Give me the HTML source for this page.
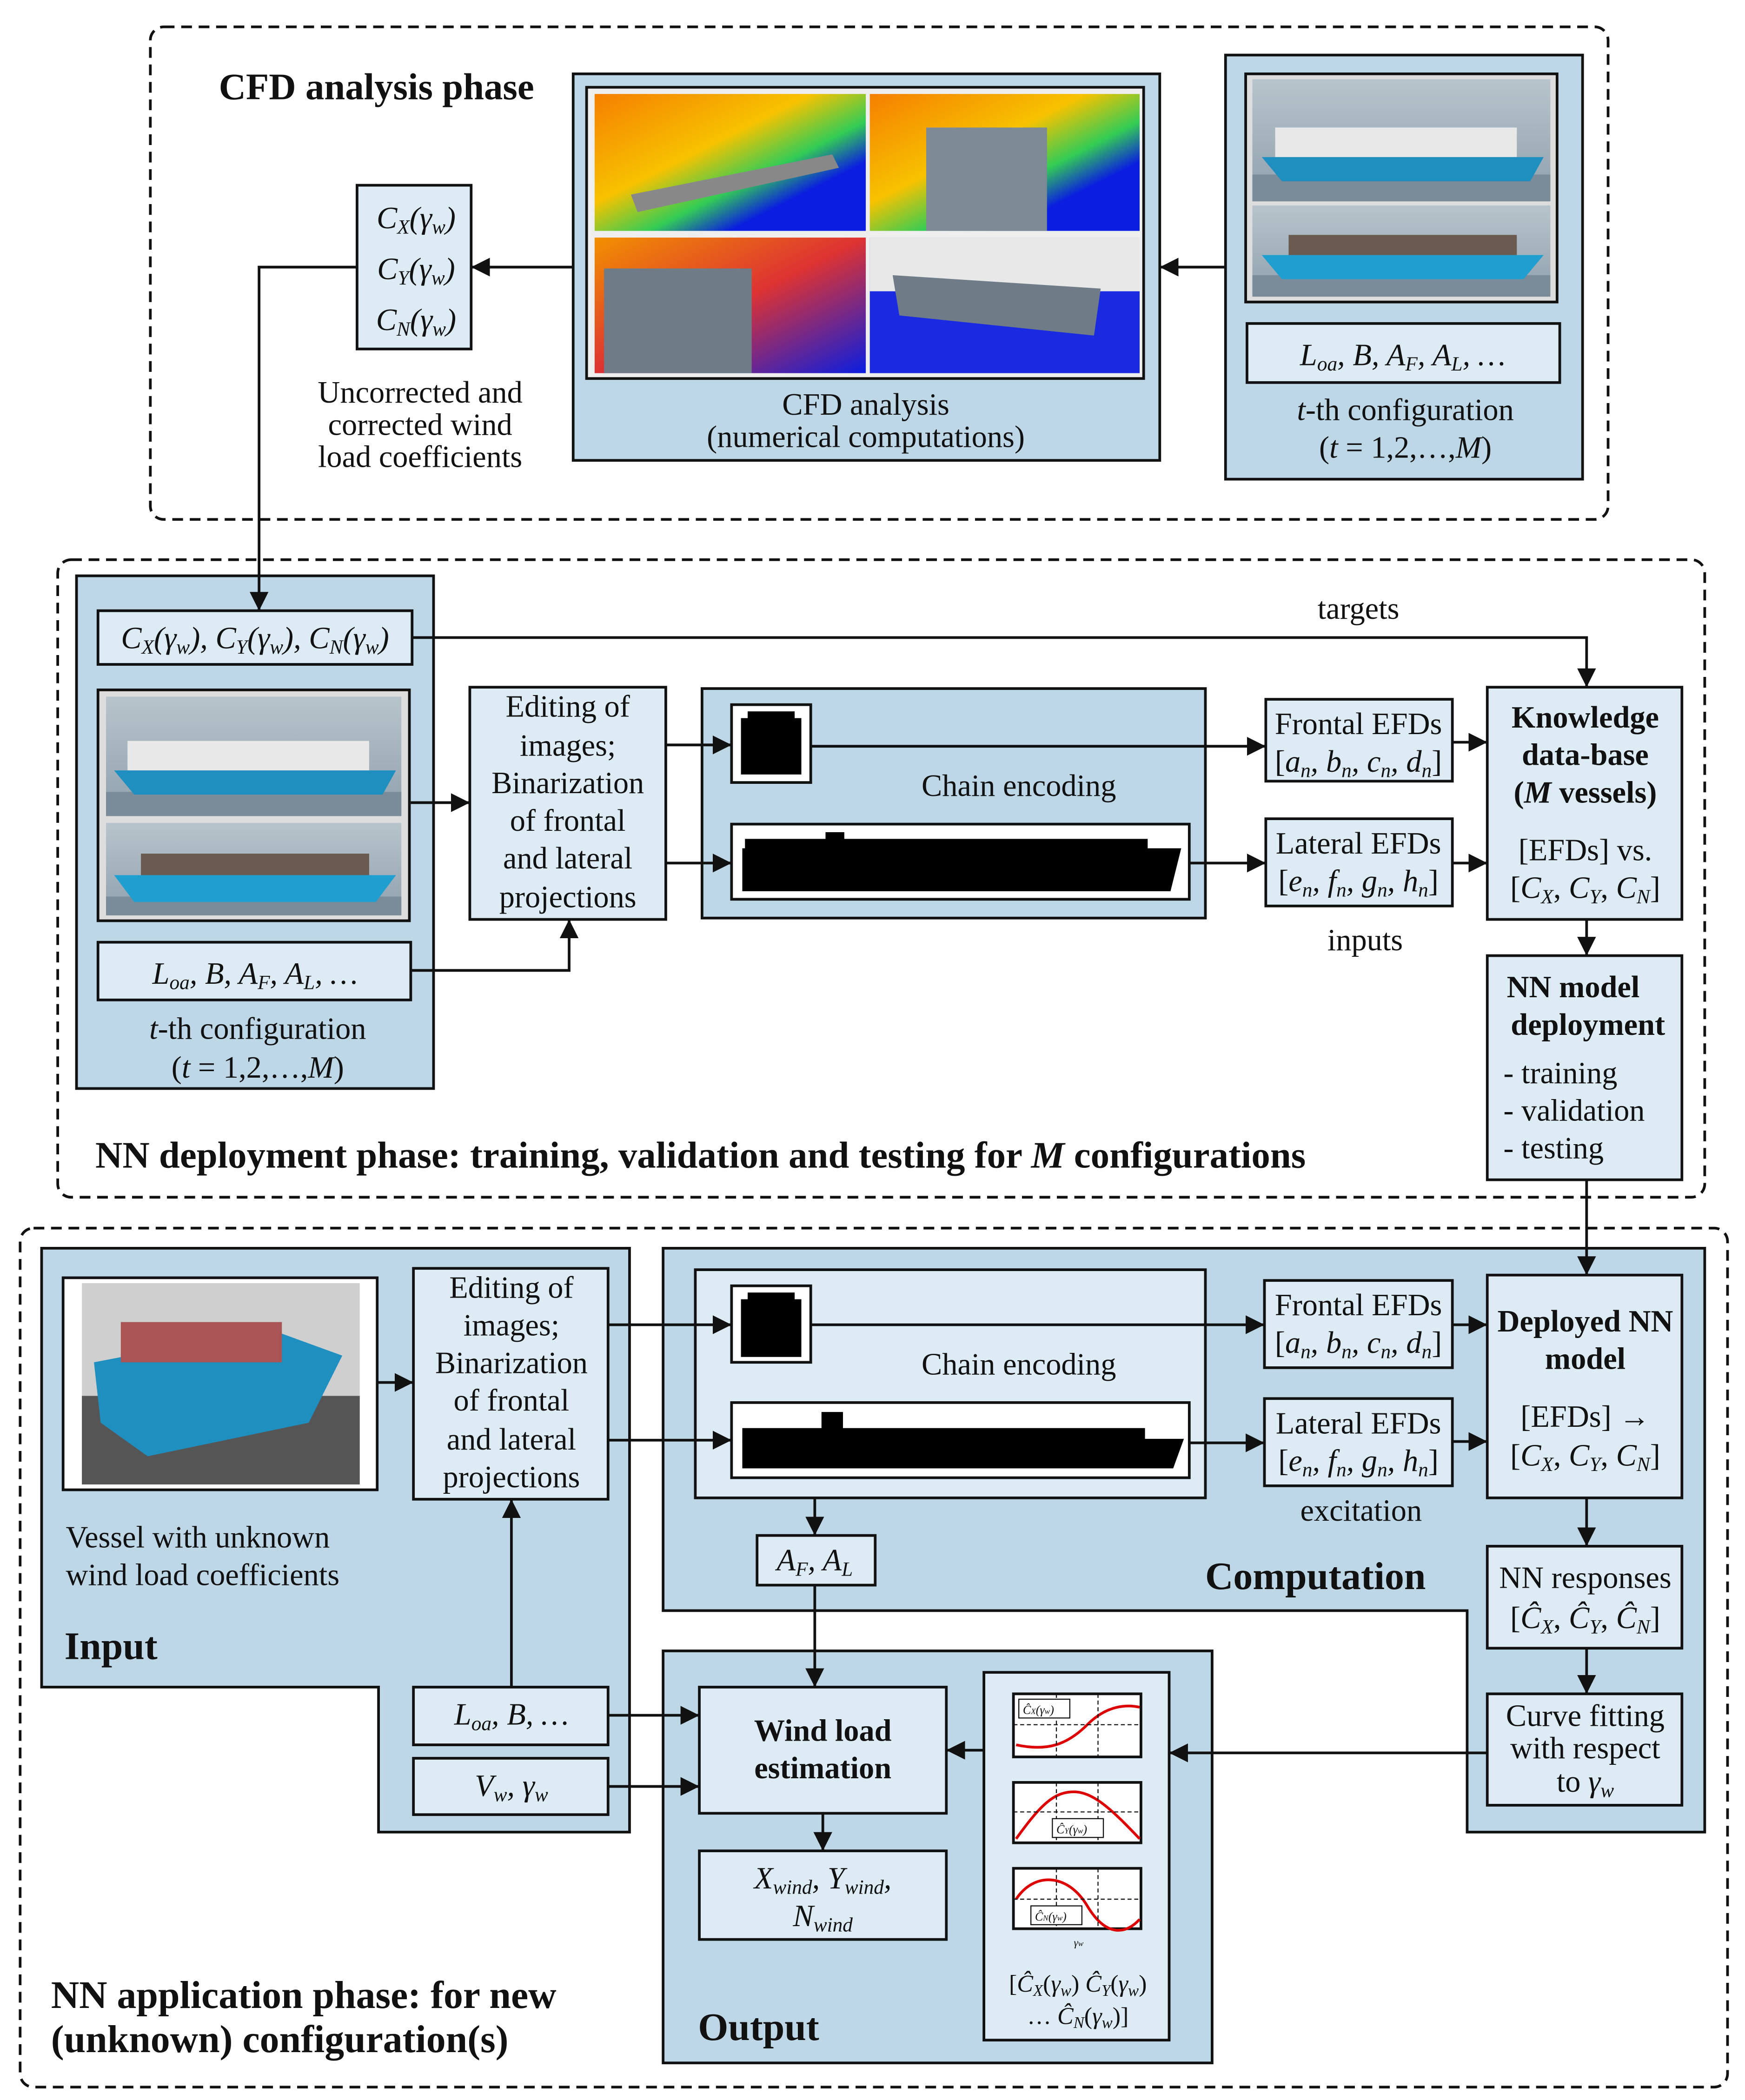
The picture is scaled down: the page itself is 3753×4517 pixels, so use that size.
<!DOCTYPE html>
<html><head><meta charset="utf-8"><style>
html,body{margin:0;padding:0;background:#fff}
svg{display:block}
text{font-family:"Liberation Serif",serif;fill:#111}
.t{font-size:23px}
.b{font-weight:bold}
.c{text-anchor:middle}
.i{font-style:italic}
</style></head><body>
<svg width="3753" height="4517" viewBox="0 0 1300 1564.6" xmlns="http://www.w3.org/2000/svg">
<defs>
<marker id="ar" viewBox="0 0 10 10" refX="10" refY="5" markerWidth="14" markerHeight="14" orient="auto" markerUnits="userSpaceOnUse"><path d="M0,0L10,5L0,10z" fill="#111"/></marker>
<linearGradient id="sky" x1="0" y1="0" x2="0" y2="1"><stop offset="0" stop-color="#b8c4cc"/><stop offset="1" stop-color="#8fa0ad"/></linearGradient>
<linearGradient id="cfd1" x1="0" y1="0" x2="1" y2="1"><stop offset="0" stop-color="#f57f00"/><stop offset=".4" stop-color="#f7c200"/><stop offset=".6" stop-color="#33cc55"/><stop offset=".75" stop-color="#0a1de0"/></linearGradient>
<linearGradient id="cfd2" x1="0" y1="0" x2="1" y2="1"><stop offset="0" stop-color="#f29000"/><stop offset=".5" stop-color="#d33"/><stop offset="1" stop-color="#0a1de0"/></linearGradient>
</defs>
<g stroke="#111" stroke-width="2" fill="none">
<rect x="112" y="20" width="1086" height="367" rx="10" stroke-dasharray="8,5"/>
<rect x="43" y="417" width="1227" height="475" rx="10" stroke-dasharray="8,5"/>
<rect x="15" y="915" width="1272" height="640" rx="10" stroke-dasharray="8,5"/>
</g>
<g stroke="#111" stroke-width="2">
<rect x="266" y="138" width="85" height="122" fill="#ddebf4"/>
<rect x="427" y="55" width="437" height="288" fill="#bdd7e7"/>
<rect x="437" y="65" width="415" height="217" fill="#eee"/>
<rect x="913" y="41" width="266" height="316" fill="#bdd7e7"/>
<rect x="928" y="55" width="232" height="170" fill="#ddd"/>
<rect x="929" y="241" width="233" height="44" fill="#ddebf4"/>
<rect x="57" y="429" width="266" height="382" fill="#bdd7e7"/>
<rect x="73" y="455" width="234" height="40" fill="#ddebf4"/>
<rect x="73" y="514" width="232" height="172" fill="#ddd"/>
<rect x="73" y="702" width="233" height="43" fill="#ddebf4"/>
<rect x="350" y="512" width="146" height="173" fill="#ddebf4"/>
<rect x="523" y="513" width="375" height="171" fill="#bdd7e7"/>
<rect x="545" y="525" width="59" height="58" fill="#fff"/>
<rect x="545" y="614" width="341" height="56" fill="#fff"/>
<rect x="943" y="521" width="139" height="61" fill="#ddebf4"/>
<rect x="943" y="610" width="139" height="65" fill="#ddebf4"/>
<rect x="1108" y="512" width="145" height="173" fill="#ddebf4"/>
<rect x="1108" y="712" width="145" height="167" fill="#ddebf4"/>
<path d="M31,930H469V1365H282V1257H31Z" fill="#bdd7e7"/>
<path d="M494,930H1270V1365H1093V1200H494Z" fill="#bdd7e7"/>
<rect x="47" y="952" width="234" height="158" fill="#fff"/>
<rect x="308" y="945" width="145" height="172" fill="#ddebf4"/>
<rect x="308" y="1257" width="145" height="43" fill="#ddebf4"/>
<rect x="308" y="1310" width="145" height="42" fill="#ddebf4"/>
<rect x="518" y="946" width="380" height="170" fill="#ddebf4"/>
<rect x="545" y="958" width="59" height="57" fill="#fff"/>
<rect x="545" y="1045" width="341" height="56" fill="#fff"/>
<rect x="942" y="954" width="140" height="65" fill="#ddebf4"/>
<rect x="942" y="1042" width="140" height="65" fill="#ddebf4"/>
<rect x="1108" y="950" width="145" height="166" fill="#ddebf4"/>
<rect x="1108" y="1152" width="145" height="76" fill="#ddebf4"/>
<rect x="1108" y="1262" width="145" height="83" fill="#ddebf4"/>
<rect x="564" y="1144" width="88" height="37" fill="#ddebf4"/>
<rect x="494" y="1230" width="409" height="307" fill="#bdd7e7"/>
<rect x="521" y="1257" width="184" height="94" fill="#ddebf4"/>
<rect x="521" y="1379" width="184" height="66" fill="#ddebf4"/>
<rect x="733" y="1246" width="138" height="274" fill="#ddebf4"/>
<rect x="755" y="1262" width="95" height="47" fill="#fff"/>
<rect x="755" y="1328" width="95" height="45" fill="#fff"/>
<rect x="755" y="1392" width="95" height="45" fill="#fff"/>
</g>
<rect x="443" y="70" width="202" height="102" fill="url(#cfd1)"/>
<rect x="648" y="70" width="201" height="102" fill="url(#cfd1)"/>
<rect x="690" y="95" width="90" height="77" fill="#7c8a96"/>
<rect x="443" y="177" width="202" height="101" fill="url(#cfd2)"/>
<rect x="450" y="200" width="110" height="78" fill="#6f7c88"/>
<rect x="648" y="177" width="201" height="101" fill="#1a2ae0"/>
<rect x="648" y="177" width="201" height="40" fill="#e8e8e8"/>
<path d="M665,205L820,215L815,250L670,235Z" fill="#6f7c88"/>
<path d="M470,145L620,115L625,125L475,158Z" fill="#888"/>
<g>
<rect x="933" y="59" width="222" height="91" fill="url(#sky)"/><rect x="933" y="130" width="222" height="20" fill="#7a8c99"/>
<rect x="950" y="95" width="180" height="22" fill="#e8e8e8"/><path d="M940,117H1150L1140,135H955Z" fill="#1f8fc0"/>
<rect x="933" y="153" width="222" height="68" fill="url(#sky)"/><rect x="933" y="205" width="222" height="16" fill="#7a8c99"/>
<rect x="960" y="175" width="170" height="17" fill="#6a5a50"/><path d="M940,190H1150L1135,208H955Z" fill="#1f9fd0"/>
<rect x="79" y="519" width="220" height="89" fill="url(#sky)"/><rect x="79" y="590" width="220" height="18" fill="#7a8c99"/>
<rect x="95" y="552" width="180" height="22" fill="#e8e8e8"/><path d="M85,574H295L285,592H100Z" fill="#1f8fc0"/>
<rect x="79" y="613" width="220" height="69" fill="url(#sky)"/><rect x="79" y="668" width="220" height="14" fill="#7a8c99"/>
<rect x="105" y="636" width="170" height="17" fill="#6a5a50"/><path d="M85,652H295L280,672H100Z" fill="#1f9fd0"/>
<rect x="61" y="956" width="207" height="150" fill="#cfcfcf"/><rect x="61" y="1040" width="207" height="66" fill="#555"/>
<path d="M70,1015L200,990L255,1010L230,1060L110,1085L75,1060Z" fill="#1f8fc0"/>
<rect x="90" y="985" width="120" height="30" fill="#a55"/>
</g>
<g fill="#000">
<path d="M552,535H597V577H552Z"/><rect x="557" y="530" width="35" height="6"/>
<path d="M552,968H597V1011H552Z"/><rect x="557" y="963" width="35" height="6"/>
<path d="M553,632H880L872,664H553Z"/>
<rect x="555" y="625" width="300" height="8"/><rect x="615" y="620" width="14" height="14"/>
<path d="M553,1072H882L874,1094H553Z"/><rect x="553" y="1064" width="300" height="9"/><rect x="612" y="1052" width="16" height="21"/>
</g>
<g fill="none" stroke="#d00" stroke-width="2">
<path d="M757,1300C780,1305 795,1300 810,1285S840,1270 849,1272"/>
<path d="M757,1370C775,1345 785,1335 800,1335S830,1350 849,1370"/>
<path d="M757,1415C770,1395 795,1395 810,1420S840,1440 849,1430"/>
</g>
<g stroke="#111" stroke-width="0.8" stroke-dasharray="3,2" fill="none">
<path d="M787,1262V1309M818,1262V1309M755,1285H850M787,1328V1373M818,1328V1373M755,1350H850M787,1392V1437M818,1392V1437M755,1415H850"/>
</g>
<g stroke="#111" stroke-width="0.8" fill="#fff"><rect x="759" y="1266" width="38" height="14"/><rect x="784" y="1355" width="38" height="14"/><rect x="768" y="1420" width="38" height="14"/></g>
<g font-size="9" class="i"><text x="762" y="1277">Ĉ<tspan font-size="6">X</tspan>(γ<tspan font-size="6">w</tspan>)</text><text x="787" y="1366">Ĉ<tspan font-size="6">Y</tspan>(γ<tspan font-size="6">w</tspan>)</text><text x="771" y="1431">Ĉ<tspan font-size="6">N</tspan>(γ<tspan font-size="6">w</tspan>)</text><text x="800" y="1450" font-size="8">γ<tspan font-size="6">w</tspan></text></g>
<g stroke="#111" stroke-width="2" fill="none" marker-end="url(#ar)">
<path d="M913,199H864"/><path d="M427,199H351"/>
<path d="M266,199H193V455"/>
<path d="M307,475H1182V512"/>
<path d="M306,598H350"/><path d="M306,723H424V685"/>
<path d="M496,555H545"/><path d="M496,643H545"/>
<path d="M604,556H943"/><path d="M886,643H943"/>
<path d="M1082,553H1108"/><path d="M1082,643H1108"/>
<path d="M1182,685V712"/>
<path d="M1182,879V950"/>
<path d="M281,1030H308"/><path d="M381,1257V1117"/>
<path d="M453,987H545"/><path d="M453,1073H545"/>
<path d="M604,987H942"/><path d="M886,1075H942"/>
<path d="M1082,987H1108"/><path d="M1082,1074H1108"/>
<path d="M1182,1116V1152"/><path d="M1182,1228V1262"/>
<path d="M607,1116V1144"/><path d="M607,1181V1257"/>
<path d="M453,1278H521"/><path d="M453,1331H521"/>
<path d="M613,1351V1379"/>
<path d="M1108,1306H871"/><path d="M733,1304H705"/>
</g>
<text x="163" y="74" font-size="28" class="b">CFD analysis phase</text>
<g class="t i c">
<text x="310" y="170">C<tspan font-size="15" dy="4">X</tspan><tspan dy="-4">(γ</tspan><tspan font-size="15" dy="4">w</tspan><tspan dy="-4">)</tspan></text>
<text x="310" y="208">C<tspan font-size="15" dy="4">Y</tspan><tspan dy="-4">(γ</tspan><tspan font-size="15" dy="4">w</tspan><tspan dy="-4">)</tspan></text>
<text x="310" y="246">C<tspan font-size="15" dy="4">N</tspan><tspan dy="-4">(γ</tspan><tspan font-size="15" dy="4">w</tspan><tspan dy="-4">)</tspan></text>
</g>
<g class="t c">
<text x="313" y="300">Uncorrected and</text><text x="313" y="324">corrected wind</text><text x="313" y="348">load coefficients</text>
<text x="645" y="309">CFD analysis</text><text x="645" y="333">(numerical computations)</text>
<text x="1045" y="272" class="i">L<tspan font-size="15" dy="4">oa</tspan><tspan dy="-4">, B, A</tspan><tspan font-size="15" dy="4">F</tspan><tspan dy="-4">, A</tspan><tspan font-size="15" dy="4">L</tspan><tspan dy="-4">, …</tspan></text>
<text x="1047" y="313"><tspan class="i">t</tspan>-th configuration</text>
<text x="1047" y="341">(<tspan class="i">t</tspan> = 1,2,…,<tspan class="i">M</tspan>)</text>
<text x="190" y="483" class="i">C<tspan font-size="15" dy="4">X</tspan><tspan dy="-4">(γ</tspan><tspan font-size="15" dy="4">w</tspan><tspan dy="-4">), C</tspan><tspan font-size="15" dy="4">Y</tspan><tspan dy="-4">(γ</tspan><tspan font-size="15" dy="4">w</tspan><tspan dy="-4">), C</tspan><tspan font-size="15" dy="4">N</tspan><tspan dy="-4">(γ</tspan><tspan font-size="15" dy="4">w</tspan><tspan dy="-4">)</tspan></text>
<text x="190" y="733" class="i">L<tspan font-size="15" dy="4">oa</tspan><tspan dy="-4">, B, A</tspan><tspan font-size="15" dy="4">F</tspan><tspan dy="-4">, A</tspan><tspan font-size="15" dy="4">L</tspan><tspan dy="-4">, …</tspan></text>
<text x="192" y="774"><tspan class="i">t</tspan>-th configuration</text>
<text x="192" y="803">(<tspan class="i">t</tspan> = 1,2,…,<tspan class="i">M</tspan>)</text>
<text x="1012" y="461">targets</text>
<text x="423" y="534">Editing of</text><text x="423" y="563">images;</text><text x="423" y="591">Binarization</text><text x="423" y="619">of frontal</text><text x="423" y="647">and lateral</text><text x="423" y="676">projections</text>
<text x="759" y="593">Chain encoding</text>
<text x="1012" y="547">Frontal EFDs</text>
<text x="1012" y="575" class="i"><tspan font-style="normal">[</tspan>a<tspan font-size="15" dy="4">n</tspan><tspan dy="-4">, b</tspan><tspan font-size="15" dy="4">n</tspan><tspan dy="-4">, c</tspan><tspan font-size="15" dy="4">n</tspan><tspan dy="-4">, d</tspan><tspan font-size="15" dy="4">n</tspan><tspan dy="-4" font-style="normal">]</tspan></text>
<text x="1012" y="636">Lateral EFDs</text>
<text x="1012" y="664" class="i"><tspan font-style="normal">[</tspan>e<tspan font-size="15" dy="4">n</tspan><tspan dy="-4">, f</tspan><tspan font-size="15" dy="4">n</tspan><tspan dy="-4">, g</tspan><tspan font-size="15" dy="4">n</tspan><tspan dy="-4">, h</tspan><tspan font-size="15" dy="4">n</tspan><tspan dy="-4" font-style="normal">]</tspan></text>
<text x="1017" y="708">inputs</text>
<text x="1181" y="542" class="b">Knowledge</text><text x="1181" y="570" class="b">data-base</text><text x="1181" y="598" class="b">(<tspan class="i">M</tspan> vessels)</text>
<text x="1181" y="641">[EFDs] vs.</text>
<text x="1181" y="669">[<tspan class="i">C</tspan><tspan font-size="15" dy="4" class="i">X</tspan><tspan dy="-4">, </tspan><tspan class="i">C</tspan><tspan font-size="15" dy="4" class="i">Y</tspan><tspan dy="-4">, </tspan><tspan class="i">C</tspan><tspan font-size="15" dy="4" class="i">N</tspan><tspan dy="-4">]</tspan></text>
<text x="1172" y="743" class="b">NN model</text><text x="1183" y="771" class="b">deployment</text>
</g>
<g class="t">
<text x="1120" y="807">- training</text><text x="1120" y="835">- validation</text><text x="1120" y="863">- testing</text>
<text x="49" y="1153">Vessel with unknown</text><text x="49" y="1181">wind load coefficients</text>
</g>
<text x="71" y="870" font-size="28" class="b">NN deployment phase: training, validation and testing for <tspan class="i">M</tspan> configurations</text>
<text x="48" y="1236" font-size="29" class="b">Input</text>
<text x="980" y="1184" font-size="29" class="b c">Computation</text>
<text x="520" y="1520" font-size="29" class="b">Output</text>
<text x="38" y="1496" font-size="29" class="b">NN application phase: for new</text>
<text x="38" y="1529" font-size="29" class="b">(unknown) configuration(s)</text>
<g class="t c">
<text x="381" y="967">Editing of</text><text x="381" y="995">images;</text><text x="381" y="1023">Binarization</text><text x="381" y="1051">of frontal</text><text x="381" y="1080">and lateral</text><text x="381" y="1108">projections</text>
<text x="381" y="1285" class="i">L<tspan font-size="15" dy="4">oa</tspan><tspan dy="-4">, B, …</tspan></text>
<text x="381" y="1338" class="i">V<tspan font-size="15" dy="4">w</tspan><tspan dy="-4">, γ</tspan><tspan font-size="15" dy="4">w</tspan></text>
<text x="759" y="1024">Chain encoding</text>
<text x="1012" y="980">Frontal EFDs</text>
<text x="1012" y="1008" class="i"><tspan font-style="normal">[</tspan>a<tspan font-size="15" dy="4">n</tspan><tspan dy="-4">, b</tspan><tspan font-size="15" dy="4">n</tspan><tspan dy="-4">, c</tspan><tspan font-size="15" dy="4">n</tspan><tspan dy="-4">, d</tspan><tspan font-size="15" dy="4">n</tspan><tspan dy="-4" font-style="normal">]</tspan></text>
<text x="1012" y="1068">Lateral EFDs</text>
<text x="1012" y="1096" class="i"><tspan font-style="normal">[</tspan>e<tspan font-size="15" dy="4">n</tspan><tspan dy="-4">, f</tspan><tspan font-size="15" dy="4">n</tspan><tspan dy="-4">, g</tspan><tspan font-size="15" dy="4">n</tspan><tspan dy="-4">, h</tspan><tspan font-size="15" dy="4">n</tspan><tspan dy="-4" font-style="normal">]</tspan></text>
<text x="1014" y="1133">excitation</text>
<text x="1181" y="992" class="b">Deployed NN</text><text x="1181" y="1020" class="b">model</text>
<text x="1181" y="1063">[EFDs] →</text>
<text x="1181" y="1092">[<tspan class="i">C</tspan><tspan font-size="15" dy="4" class="i">X</tspan><tspan dy="-4">, </tspan><tspan class="i">C</tspan><tspan font-size="15" dy="4" class="i">Y</tspan><tspan dy="-4">, </tspan><tspan class="i">C</tspan><tspan font-size="15" dy="4" class="i">N</tspan><tspan dy="-4">]</tspan></text>
<text x="1181" y="1183">NN responses</text>
<text x="1181" y="1213">[<tspan class="i">Ĉ</tspan><tspan font-size="15" dy="4" class="i">X</tspan><tspan dy="-4">, </tspan><tspan class="i">Ĉ</tspan><tspan font-size="15" dy="4" class="i">Y</tspan><tspan dy="-4">, </tspan><tspan class="i">Ĉ</tspan><tspan font-size="15" dy="4" class="i">N</tspan><tspan dy="-4">]</tspan></text>
<text x="1181" y="1286">Curve fitting</text><text x="1181" y="1310">with respect</text>
<text x="1181" y="1335">to <tspan class="i">γ</tspan><tspan font-size="15" dy="4" class="i">w</tspan></text>
<text x="607" y="1170" class="i">A<tspan font-size="15" dy="4">F</tspan><tspan dy="-4">, A</tspan><tspan font-size="15" dy="4">L</tspan></text>
<text x="613" y="1297" class="b">Wind load</text><text x="613" y="1325" class="b">estimation</text>
<text x="613" y="1407" class="i">X<tspan font-size="15" dy="4">wind</tspan><tspan dy="-4">, Y</tspan><tspan font-size="15" dy="4">wind</tspan><tspan dy="-4">,</tspan></text>
<text x="613" y="1435" class="i">N<tspan font-size="15" dy="4">wind</tspan></text>
</g>
<g font-size="18" class="c">
<text x="803" y="1484">[<tspan class="i">Ĉ</tspan><tspan font-size="12" dy="3" class="i">X</tspan><tspan dy="-3">(</tspan><tspan class="i">γ</tspan><tspan font-size="12" dy="3" class="i">w</tspan><tspan dy="-3">) </tspan><tspan class="i">Ĉ</tspan><tspan font-size="12" dy="3" class="i">Y</tspan><tspan dy="-3">(</tspan><tspan class="i">γ</tspan><tspan font-size="12" dy="3" class="i">w</tspan><tspan dy="-3">)</tspan></text>
<text x="803" y="1508">… <tspan class="i">Ĉ</tspan><tspan font-size="12" dy="3" class="i">N</tspan><tspan dy="-3">(</tspan><tspan class="i">γ</tspan><tspan font-size="12" dy="3" class="i">w</tspan><tspan dy="-3">)]</tspan></text>
</g>
</svg>
</body></html>
